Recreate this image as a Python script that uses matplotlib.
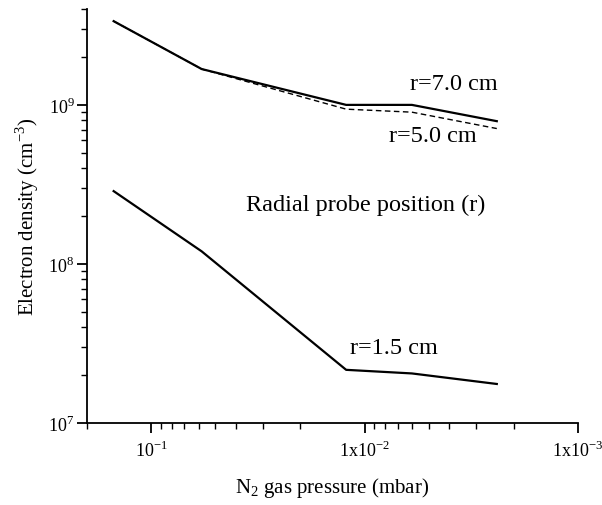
import numpy as np
import matplotlib.pyplot as plt
from matplotlib.ticker import LogLocator, FixedLocator, NullFormatter

plt.rcParams['font.family'] = ['Liberation Serif', 'DejaVu Serif']
plt.rcParams['mathtext.fontset'] = 'custom'
plt.rcParams['mathtext.rm'] = 'Liberation Serif'

# N2 pressure (mbar) and electron density (cm^-3) per radial position
pressure = [0.15, 0.058, 0.0122, 0.006, 0.0024]
ne_r70 = [3.36e9, 1.68e9, 1.0e9, 1.0e9, 7.9e8]
ne_r50 = [3.36e9, 1.68e9, 9.4e8, 9.0e8, 7.1e8]
ne_r15 = [2.87e8, 1.2e8, 2.16e7, 2.05e7, 1.76e7]

fig = plt.figure(figsize=(6.02, 5.06), dpi=100)
ax = fig.add_axes([0.1445, 0.162, 0.8155, 0.818])

ax.plot(pressure, ne_r70, color='black', lw=1.6)
ax.plot(pressure, ne_r50, color='black', lw=1.0, ls=(0, (4, 2.5)))
ax.plot(pressure, ne_r15, color='black', lw=1.6)

ax.set_xscale('log')
ax.set_yscale('log')
ax.set_xlim(0.2, 1e-3)
ax.set_ylim(1e7, 4e9)

ax.spines['top'].set_visible(False)
ax.spines['right'].set_visible(False)
ax.spines['left'].set_linewidth(1.3)
ax.spines['bottom'].set_linewidth(1.3)

ax.xaxis.set_major_locator(FixedLocator([1e-1, 1e-2, 1e-3]))
ax.set_xticklabels(['10$^{-1}$', '1x10$^{-2}$', '1x10$^{-3}$'])
ax.xaxis.set_minor_locator(LogLocator(base=10, subs=np.arange(2, 10), numticks=20))
ax.xaxis.set_minor_formatter(NullFormatter())

ax.yaxis.set_major_locator(FixedLocator([1e7, 1e8, 1e9]))
ax.set_yticklabels(['10$^{7}$', '10$^{8}$', '10$^{9}$'])
ax.yaxis.set_minor_locator(LogLocator(base=10, subs=np.arange(2, 10), numticks=20))
ax.yaxis.set_minor_formatter(NullFormatter())

ax.tick_params(which='major', direction='out', length=7, width=1.3, labelsize=13)
ax.tick_params(which='minor', direction='out', length=4, width=1.0)
ax.tick_params(axis='x', which='major', pad=5)
ax.tick_params(axis='y', which='major', pad=2)

ax.set_xlabel('N$_2$ gas pressure (mbar)', fontsize=15, labelpad=11)
ax.set_ylabel('Electron density (cm$^{-3}$)', fontsize=15, labelpad=5)

ax.text(0.0038, 1.37e9, 'r=7.0 cm', fontsize=17.5, ha='center', va='center')
ax.text(0.0048, 6.4e8, 'r=5.0 cm', fontsize=17.5, ha='center', va='center')
ax.text(0.0099, 2.36e8, 'Radial probe position (r)', fontsize=17.5, ha='center', va='center')
ax.text(0.0073, 3.0e7, 'r=1.5 cm', fontsize=17.5, ha='center', va='center')

fig.savefig('out.png', dpi=100)
